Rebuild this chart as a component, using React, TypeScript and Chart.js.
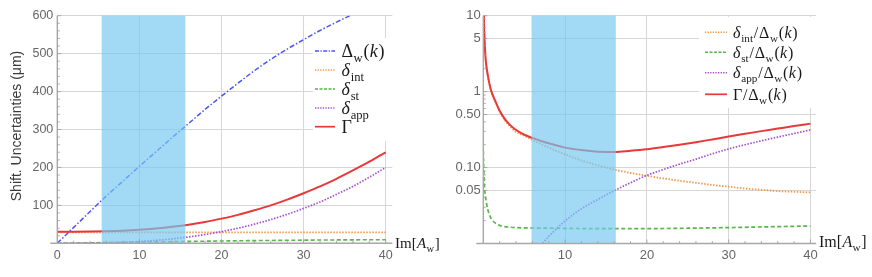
import React, { useEffect, useRef } from "react";
import { Chart, registerables } from "chart.js";

Chart.register(...registerables);

// ---------------- DATA ----------------
// Left chart: shift uncertainties (μm) vs Im[A_w]
const leftX = [0, 2, 4, 6, 8, 10, 12, 14, 16, 18, 20, 22, 24, 26, 28, 30, 32, 34, 36, 38, 40];
const deltaW = [0, 42, 84, 125, 164, 203, 241, 279, 316, 353, 388, 422, 455, 485, 512, 537, 561, 583, 604, 625, 645];
const deltaInt = [29, 29, 29, 29, 29, 29, 29, 29, 29, 29, 29, 29, 29, 29, 29, 29, 29, 29, 29, 29, 29];
const deltaSt = [0, 0.8, 1.3, 1.9, 2.5, 3.2, 3.8, 4.4, 5, 5.6, 6.1, 6.6, 7.1, 7.5, 7.9, 8.3, 8.6, 8.9, 9.1, 9.3, 9.5];
const deltaApp = [0, 0.06, 0.4, 1.2, 2.6, 4.7, 7.7, 11.8, 16.8, 23.2, 30.8, 39.8, 50.4, 62.5, 76.4, 92, 109, 129, 150, 174, 200];
const gamma = [30.5, 30.5, 30.8, 31.5, 33, 35.5, 39, 43.5, 49, 56, 65, 75, 87, 100, 115, 132, 150, 170, 192, 215, 240];
const leftBand = [5.4, 15.6];
const leftXTicks = [0, 10, 20, 30, 40];
const leftYTicks = [100, 200, 300, 400, 500, 600];

// Right chart: ratios to Δw(k) (log scale)
const rightX = [0.07, 0.1, 0.17, 0.3, 0.57, 0.8, 1, 1.4, 2, 2.6, 3.2, 3.8, 5, 6, 7, 8, 9, 10, 12, 14, 16, 18, 20, 22, 24, 26, 28, 30, 32, 34, 36, 38, 40];
const ratioGamma = [10, 7, 4.4, 2.6, 1.6, 1.2, 1.0, 0.78, 0.56, 0.44, 0.37, 0.325, 0.271, 0.246, 0.226, 0.209, 0.195, 0.183, 0.17, 0.162, 0.16, 0.166, 0.174, 0.186, 0.2, 0.216, 0.235, 0.256, 0.278, 0.302, 0.326, 0.352, 0.379];
const ratioInt = [10, 6.9, 4.3, 2.55, 1.57, 1.17, 0.97, 0.77, 0.55, 0.425, 0.355, 0.305, 0.262, 0.232, 0.205, 0.183, 0.164, 0.149, 0.124, 0.107, 0.094, 0.085, 0.078, 0.072, 0.067, 0.063, 0.059, 0.056, 0.053, 0.051, 0.049, 0.048, 0.047];
const stX = [0, 0.04, 0.08, 0.15, 0.25, 0.37, 0.55, 0.75, 1, 1.5, 2.2, 3, 4, 6, 8, 10, 15, 20, 25, 30, 35, 40];
const ratioSt = [0.166, 0.11, 0.078, 0.056, 0.043, 0.035, 0.028, 0.024, 0.021, 0.0185, 0.017, 0.0165, 0.0162, 0.016, 0.0159, 0.0158, 0.0157, 0.0157, 0.0159, 0.0162, 0.0166, 0.017];
const appX = [7, 8, 9, 10, 11, 12, 13, 14, 15, 16, 17, 18, 19, 20, 22, 24, 26, 28, 30, 32, 34, 36, 38, 40];
const ratioApp = [0.0094, 0.0124, 0.0158, 0.0198, 0.0241, 0.0286, 0.0333, 0.038, 0.0435, 0.0495, 0.056, 0.063, 0.071, 0.079, 0.094, 0.111, 0.129, 0.152, 0.176, 0.2, 0.225, 0.252, 0.281, 0.313];
const rightBand = [5.9, 16.2];
const rightXTicks = [10, 20, 30, 40];
const rightYTicks = [0.05, 0.1, 0.5, 1, 5, 10];
const rightYLabels = ["0.05", "0.10", "0.50", "1", "5", "10"];

// ---------------- STYLE ----------------
const SANS = '"Liberation Sans", Arial, Helvetica, sans-serif';
const SERIF = '"Liberation Serif", "Times New Roman", serif';
const C_BLUE = "#4756f4";
const C_ORANGE = "#f09a4c";
const C_GREEN = "#56b848";
const C_PURPLE = "#a54ed2";
const C_RED = "#e8393a";
const GRID = "#d6d6d6";
const AXIS = "#a8a8a8";
const TICKTXT = "#666666";
const BAND = "rgba(118, 200, 242, 0.68)";

type Seg = { t: string; it?: boolean; sub?: boolean; sp?: number };

function drawMath(ctx: CanvasRenderingContext2D, x: number, baseline: number, segs: Seg[], size: number) {
  let cx = x;
  ctx.textAlign = "left";
  ctx.textBaseline = "alphabetic";
  for (const s of segs) {
    const fs = s.sub ? size * 0.7 : size;
    ctx.font = `${s.it ? "italic " : ""}${fs}px ${SERIF}`;
    ctx.fillText(s.t, cx, baseline + (s.sub ? size * 0.26 : 0));
    cx += ctx.measureText(s.t).width + (s.sp ?? 0);
  }
  return cx;
}

const DW: Seg[] = [{ t: "Δ", sp: 0.5 }, { t: "w", sub: true, sp: 0.8 }, { t: "(", sp: 0.3 }, { t: "k", it: true, sp: 0.8 }, { t: ")" }];

type Entry = { y: number; color: string; dash: number[]; width: number; segs: Seg[] };

type Decor = {
  band: number[];
  xMajor: number[];
  xMinor: number[];
  yMajor: number[];
  yMinor: number[];
  axisExtend: number;
  box: number[];
  line: number[];
  textX: number;
  textSize: number;
  entries: Entry[];
  xLabel: { x: number; y: number; size: number };
  yTitle?: { x: number; y: number; size: number; text: string };
};

function makeDecor(d: Decor) {
  return {
    id: "decor",
    afterDatasetsDraw(chart: any) {
      const ctx: CanvasRenderingContext2D = chart.ctx;
      const a = chart.chartArea;
      const xs = chart.scales.x;
      const ys = chart.scales.y;
      ctx.save();
      // band on top of the curves (translucent)
      const bx0 = xs.getPixelForValue(d.band[0]);
      const bx1 = xs.getPixelForValue(d.band[1]);
      ctx.fillStyle = BAND;
      ctx.fillRect(bx0, a.top, bx1 - bx0, a.bottom - a.top);
      // axes
      ctx.strokeStyle = AXIS;
      ctx.lineWidth = 1.4;
      ctx.beginPath();
      ctx.moveTo(a.left - d.axisExtend, a.bottom);
      ctx.lineTo(a.right, a.bottom);
      ctx.moveTo(a.left, a.top);
      ctx.lineTo(a.left, a.bottom);
      ctx.stroke();
      // tick marks
      ctx.strokeStyle = "#9a9a9a";
      ctx.lineWidth = 0.8;
      ctx.beginPath();
      for (const v of d.xMajor) {
        const p = xs.getPixelForValue(v);
        ctx.moveTo(p, a.bottom);
        ctx.lineTo(p, a.bottom - 4);
      }
      for (const v of d.xMinor) {
        const p = xs.getPixelForValue(v);
        ctx.moveTo(p, a.bottom);
        ctx.lineTo(p, a.bottom - 2.5);
      }
      for (const v of d.yMajor) {
        const p = ys.getPixelForValue(v);
        ctx.moveTo(a.left, p);
        ctx.lineTo(a.left + 4, p);
      }
      for (const v of d.yMinor) {
        const p = ys.getPixelForValue(v);
        ctx.moveTo(a.left, p);
        ctx.lineTo(a.left + 2.5, p);
      }
      ctx.stroke();
      // legend box
      ctx.fillStyle = "#ffffff";
      ctx.fillRect(d.box[0], d.box[1], d.box[2], d.box[3]);
      for (const e of d.entries) {
        ctx.strokeStyle = e.color;
        ctx.lineWidth = e.width;
        ctx.setLineDash(e.dash);
        ctx.beginPath();
        ctx.moveTo(d.line[0], e.y);
        ctx.lineTo(d.line[1], e.y);
        ctx.stroke();
        ctx.setLineDash([]);
        ctx.fillStyle = "#1a1a1a";
        drawMath(ctx, d.textX, e.y + d.textSize * 0.33, e.segs, d.textSize);
      }
      // x axis label Im[A_w]
      ctx.fillStyle = "#1a1a1a";
      drawMath(
        ctx,
        d.xLabel.x,
        d.xLabel.y,
        [{ t: "Im[", sp: 0.3 }, { t: "A", it: true, sp: 0.3 }, { t: "w", sub: true, sp: 0.8 }, { t: "]" }],
        d.xLabel.size
      );
      if (d.yTitle) {
        ctx.save();
        ctx.translate(d.yTitle.x, d.yTitle.y);
        ctx.rotate(-Math.PI / 2);
        ctx.font = `${d.yTitle.size}px ${SANS}`;
        ctx.fillStyle = "#3a3a3a";
        ctx.textAlign = "center";
        ctx.textBaseline = "middle";
        ctx.fillText(d.yTitle.text, 0, 0);
        ctx.restore();
      }
      ctx.restore();
    },
  };
}

function pts(xs: number[], ys: number[]) {
  return xs.map((x, i) => ({ x, y: ys[i] }));
}

function range(a: number, b: number, step: number, skip: number) {
  const out: number[] = [];
  for (let v = a; v <= b + 1e-9; v += step) if (Math.abs(v / skip - Math.round(v / skip)) > 1e-6) out.push(v);
  return out;
}

const LeftChart: React.FC = () => {
  const ref = useRef<HTMLCanvasElement>(null);
  useEffect(() => {
    const decor = makeDecor({
      band: leftBand,
      xMajor: [10, 20, 30, 40],
      xMinor: range(2, 40, 2, 10),
      yMajor: leftYTicks,
      yMinor: range(20, 600, 20, 100),
      axisExtend: 7,
      box: [313, 38, 90, 103],
      line: [315, 335],
      textX: 341.5,
      textSize: 18,
      entries: [
        { y: 51, color: C_BLUE, dash: [4, 1.5, 1.2, 1.5], width: 1.3, segs: DW },
        { y: 70, color: C_ORANGE, dash: [1.3, 1.3], width: 1.4, segs: [{ t: "δ", it: true, sp: 0.8 }, { t: "int", sub: true }] },
        { y: 89, color: C_GREEN, dash: [3, 1.5], width: 1.3, segs: [{ t: "δ", it: true, sp: 0.8 }, { t: "st", sub: true }] },
        { y: 108, color: C_PURPLE, dash: [1.3, 1.3], width: 1.4, segs: [{ t: "δ", it: true, sp: 0.8 }, { t: "app", sub: true }] },
        { y: 126.7, color: C_RED, dash: [], width: 1.7, segs: [{ t: "Γ" }] },
      ],
      xLabel: { x: 395, y: 248, size: 15 },
      yTitle: { x: 17, y: 126, size: 14, text: "Shift. Uncertainties (μm)" },
    });
    const tickFont = { family: SANS, size: 12.5 };
    const chart = new Chart(ref.current!, {
      type: "line",
      data: {
        datasets: [
          { label: "Γ", data: pts(leftX, gamma), borderColor: C_RED, borderWidth: 2, order: 0 },
          { label: "Δw(k)", data: pts(leftX, deltaW), borderColor: C_BLUE, borderWidth: 1.5, borderDash: [5, 2, 1.5, 2], order: 1 },
          { label: "δapp", data: pts(leftX, deltaApp), borderColor: C_PURPLE, borderWidth: 1.7, borderDash: [1.5, 1.5], order: 2 },
          { label: "δst", data: pts(leftX, deltaSt), borderColor: C_GREEN, borderWidth: 1.6, borderDash: [4, 2.5], order: 3 },
          { label: "δint", data: pts(leftX, deltaInt), borderColor: C_ORANGE, borderWidth: 1.8, borderDash: [1.5, 1.5], order: 4 },
        ] as any,
      },
      options: {
        animation: false,
        responsive: false,
        events: [],
        layout: { padding: { left: 0, top: 15.7, right: 47.7, bottom: 0 } },
        elements: { point: { radius: 0 }, line: { cubicInterpolationMode: "monotone", fill: false } },
        plugins: { legend: { display: false }, tooltip: { enabled: false } },
        scales: {
          x: {
            type: "linear",
            min: 0,
            max: 40.8,
            afterBuildTicks: (s: any) => {
              s.ticks = leftXTicks.map((v) => ({ value: v }));
            },
            afterFit: (s: any) => {
              s.height = 33.7;
            },
            ticks: { font: tickFont, color: TICKTXT, padding: 5, autoSkip: false, maxRotation: 0, callback: (v: any) => String(v) },
            grid: { color: GRID, lineWidth: 1, drawTicks: false },
            border: { display: false },
          },
          y: {
            type: "linear",
            min: 0,
            max: 600,
            afterBuildTicks: (s: any) => {
              s.ticks = leftYTicks.map((v) => ({ value: v }));
            },
            afterFit: (s: any) => {
              s.width = 57.3;
            },
            ticks: { font: tickFont, color: TICKTXT, padding: 4, autoSkip: false, callback: (v: any) => String(v) },
            grid: { color: GRID, lineWidth: 1, drawTicks: false },
            border: { display: false },
          },
        },
      } as any,
      plugins: [decor as any],
    });
    return () => chart.destroy();
  }, []);
  return <canvas ref={ref} width={440} height={277} style={{ position: "absolute", left: 0, top: 0, width: 440, height: 277 }} />;
};

const RightChart: React.FC = () => {
  const ref = useRef<HTMLCanvasElement>(null);
  useEffect(() => {
    const minor: number[] = [];
    for (const dec of [0.01, 0.1, 1]) for (const m of [2, 3, 4, 6, 7, 8, 9]) minor.push(+(dec * m).toFixed(4));
    const decor = makeDecor({
      band: rightBand,
      xMajor: [10, 20, 30, 40],
      xMinor: range(2, 40, 2, 10),
      yMajor: rightYTicks,
      yMinor: minor,
      axisExtend: 7,
      box: [259, 17, 122, 91],
      line: [265, 287],
      textX: 293,
      textSize: 16,
      entries: [
        { y: 32.3, color: C_ORANGE, dash: [1.3, 1.3], width: 1.4, segs: [{ t: "δ", it: true, sp: 0.8 }, { t: "int", sub: true, sp: 0.8 }, { t: "/", sp: 0.8 }, ...DW] },
        { y: 52.3, color: C_GREEN, dash: [3, 1.5], width: 1.4, segs: [{ t: "δ", it: true, sp: 0.8 }, { t: "st", sub: true, sp: 0.8 }, { t: "/", sp: 0.8 }, ...DW] },
        { y: 72.7, color: C_PURPLE, dash: [1.3, 1.3], width: 1.4, segs: [{ t: "δ", it: true, sp: 0.8 }, { t: "app", sub: true, sp: 0.8 }, { t: "/", sp: 0.8 }, ...DW] },
        { y: 94.3, color: C_RED, dash: [], width: 1.7, segs: [{ t: "Γ", sp: 0.8 }, { t: "/", sp: 0.8 }, ...DW] },
      ],
      xLabel: { x: 379, y: 247, size: 16 },
    });
    const tickFont = { family: SANS, size: 13 };
    const chart = new Chart(ref.current!, {
      type: "line",
      data: {
        datasets: [
          { label: "Γ/Δw(k)", data: pts(rightX, ratioGamma), borderColor: C_RED, borderWidth: 2, order: 0 },
          { label: "δapp/Δw(k)", data: pts(appX, ratioApp), borderColor: C_PURPLE, borderWidth: 1.7, borderDash: [1.5, 1.5], order: 1 },
          { label: "δint/Δw(k)", data: pts(rightX, ratioInt), borderColor: C_ORANGE, borderWidth: 1.8, borderDash: [1.5, 1.5], order: 2 },
          { label: "δst/Δw(k)", data: pts(stX, ratioSt), borderColor: C_GREEN, borderWidth: 1.7, borderDash: [4, 2.5], order: 3 },
        ] as any,
      },
      options: {
        animation: false,
        responsive: false,
        events: [],
        layout: { padding: { left: 0, top: 15.7, right: 55.8, bottom: 0 } },
        elements: { point: { radius: 0 }, line: { cubicInterpolationMode: "monotone", fill: false } },
        plugins: { legend: { display: false }, tooltip: { enabled: false } },
        scales: {
          x: {
            type: "linear",
            min: 0,
            max: 40.7,
            afterBuildTicks: (s: any) => {
              s.ticks = rightXTicks.map((v) => ({ value: v }));
            },
            afterFit: (s: any) => {
              s.height = 33.5;
            },
            ticks: { font: tickFont, color: TICKTXT, padding: 4, autoSkip: false, maxRotation: 0, callback: (v: any) => String(v) },
            grid: { color: GRID, lineWidth: 1, drawTicks: false },
            border: { display: false },
          },
          y: {
            type: "logarithmic",
            min: 0.01,
            max: 10,
            afterBuildTicks: (s: any) => {
              s.ticks = rightYTicks.map((v) => ({ value: v }));
            },
            afterFit: (s: any) => {
              s.width = 43.3;
            },
            ticks: {
              font: tickFont,
              color: TICKTXT,
              padding: 2.5,
              autoSkip: false,
              callback: (v: any) => {
                const i = rightYTicks.findIndex((t) => Math.abs(t - v) < 1e-9);
                return i >= 0 ? rightYLabels[i] : "";
              },
            },
            grid: { color: GRID, lineWidth: 1, drawTicks: false },
            border: { display: false },
          },
        },
      } as any,
      plugins: [decor as any],
    });
    return () => chart.destroy();
  }, []);
  return <canvas ref={ref} width={432} height={277} style={{ position: "absolute", left: 440, top: 0, width: 432, height: 277 }} />;
};

export default function App() {
  return (
    <div style={{ position: "absolute", left: 0, top: 0, width: 872, height: 277, background: "#ffffff" }}>
      <LeftChart />
      <RightChart />
    </div>
  );
}
